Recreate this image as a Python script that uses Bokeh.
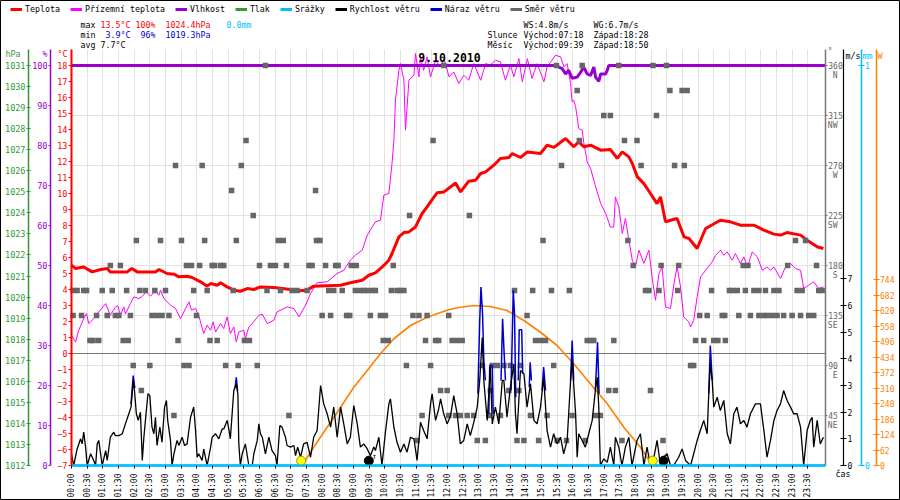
import math
from bokeh.plotting import figure
from bokeh.models import (Range1d, LinearAxis, FixedTicker, Label, Legend,
                          LegendItem, Grid)
from bokeh.embed import file_html
from bokeh.resources import INLINE

# ---------------- data (hours since midnight, 9.10.2010) ----------------
temp_t = [0.00, 0.13, 0.39, 0.66, 0.93, 1.14, 1.24, 1.78, 1.92, 2.10, 2.68, 2.79, 3.05, 3.27, 3.43,
          3.69, 3.85, 4.12, 4.33, 4.44, 4.65, 4.76, 4.97, 5.18, 5.39, 5.61, 5.82, 6.03, 6.46, 6.99,
          7.10, 7.52, 7.73, 8.59, 8.90, 9.28, 9.49, 9.70, 9.92, 10.13, 10.23, 10.45, 10.61, 10.77,
          10.98, 11.19, 11.35, 11.51, 11.67, 11.89, 12.26, 12.42, 12.68, 12.90, 13.06, 13.22, 13.48,
          13.69, 13.96, 14.07, 14.33, 14.55, 14.97, 15.18, 15.40, 15.77, 16.03, 16.19, 16.35, 16.57,
          16.89, 17.20, 17.42, 17.58, 17.79, 17.90, 18.06, 18.27, 18.48, 18.69, 18.80, 18.96, 19.12,
          19.33, 19.55, 19.71, 19.97, 20.24, 20.71, 21.03, 21.35, 21.78, 22.10, 22.42, 22.63, 22.84,
          23.27, 23.48, 23.80, 24.00]
temp_c = [5.52, 5.31, 5.41, 5.10, 5.25, 5.31, 5.10, 5.10, 5.31, 5.10, 5.10, 5.25, 5.00, 4.96, 4.79,
          4.83, 4.75, 4.48, 4.21, 4.37, 4.27, 4.42, 4.16, 3.96, 3.89, 4.06, 4.00, 4.16, 4.12, 4.00,
          3.91, 3.96, 4.21, 4.27, 4.42, 4.58, 4.89, 5.04, 5.41, 5.83, 6.25, 7.29, 7.56, 7.60,
          7.91, 8.75, 9.16, 9.62, 10.04, 10.10, 10.66, 10.10, 10.77, 10.83, 11.25, 11.35, 11.77,
          12.19, 12.25, 12.50, 12.25, 12.60, 12.50, 13.02, 12.88, 13.44, 12.92, 13.23, 12.92, 13.02,
          12.71, 12.75, 12.19, 12.60, 12.29, 11.87, 11.04, 10.62, 10.00, 9.37, 9.79, 8.23, 8.33,
          8.44, 7.29, 7.19, 6.56, 7.81, 8.33, 8.23, 8.02, 8.02, 7.71, 7.46, 7.40, 7.56,
          7.40, 7.08, 6.67, 6.56]

ground_temp = [
    (0.00, 1.14), (0.13, 0.72), (0.23, 1.45), (0.39, 2.18), (0.48, 2.50), (0.55, 1.87), (0.71, 2.18),
    (0.87, 2.60), (1.09, 3.12), (1.24, 2.39), (1.40, 2.91), (1.48, 2.98), (1.56, 2.39), (1.67, 2.91),
    (1.72, 2.46), (1.88, 3.12), (1.99, 3.54), (2.15, 3.43), (2.26, 3.58), (2.39, 3.85), (2.52, 3.58),
    (2.68, 3.91), (2.79, 3.64), (2.84, 3.96), (2.95, 3.43), (3.16, 3.02), (3.32, 2.81), (3.48, 2.18),
    (3.64, 2.81), (3.75, 3.23), (3.83, 2.71), (3.96, 2.81), (4.06, 2.39), (4.22, 1.25), (4.33, 1.77),
    (4.44, 1.45), (4.52, 1.98), (4.60, 1.35), (4.76, 1.87), (4.86, 1.56), (4.97, 2.29), (5.07, 1.25),
    (5.18, 1.66), (5.26, 0.72), (5.34, 1.35), (5.50, 1.45), (5.55, 0.93), (5.66, 1.66), (5.77, 1.87),
    (5.98, 2.39), (6.09, 2.46), (6.25, 1.87), (6.46, 2.08), (6.56, 2.60), (6.88, 2.91), (7.10, 2.81),
    (7.26, 2.29), (7.47, 3.02), (7.63, 3.75), (7.84, 4.42), (8.16, 4.48), (8.48, 5.00), (8.69, 5.20),
    (8.90, 5.83), (9.06, 6.14), (9.28, 6.46), (9.44, 7.40), (9.70, 8.23), (9.86, 8.33), (9.97, 9.90),
    (10.13, 10.00), (10.23, 11.87), (10.29, 13.33), (10.34, 15.83), (10.45, 17.70), (10.50, 18.12),
    (10.61, 17.08), (10.66, 13.96), (10.77, 17.08), (10.93, 17.40), (10.98, 18.75), (11.09, 17.29),
    (11.14, 18.54), (11.24, 17.70), (11.35, 18.54), (11.46, 17.29), (11.62, 18.33), (11.78, 17.91),
    (11.89, 18.43), (12.05, 17.29), (12.20, 17.60), (12.36, 16.87), (12.52, 17.40), (12.68, 17.08),
    (12.84, 18.12), (13.06, 17.08), (13.22, 18.12), (13.37, 18.02), (13.53, 18.33), (13.69, 18.23),
    (13.85, 17.08), (14.01, 18.02), (14.12, 17.29), (14.28, 18.43), (14.39, 16.98), (14.55, 18.43),
    (14.70, 17.19), (14.86, 18.12), (15.08, 16.98), (15.18, 17.91), (15.45, 18.64), (15.61, 18.54),
    (15.72, 17.91), (15.82, 18.12), (15.93, 16.87), (15.98, 15.73), (16.03, 15.83), (16.09, 15.42),
    (16.14, 14.79), (16.19, 14.06), (16.30, 13.96), (16.35, 13.20), (16.46, 11.98), (16.57, 11.56),
    (16.67, 10.83), (16.78, 10.10), (16.89, 9.37), (17.05, 8.75), (17.20, 7.90), (17.31, 7.90),
    (17.36, 9.79), (17.47, 9.16), (17.58, 7.50), (17.68, 8.44), (17.79, 7.08), (17.90, 5.83),
    (18.00, 5.41), (18.11, 6.46), (18.27, 5.63), (18.43, 6.46), (18.53, 4.79), (18.64, 3.33),
    (18.75, 5.00), (18.85, 5.41), (18.96, 2.91), (19.12, 2.81), (19.23, 4.37), (19.33, 5.41),
    (19.44, 4.16), (19.54, 2.29), (19.70, 1.98), (19.76, 1.66), (19.86, 2.08), (19.97, 3.54),
    (20.08, 4.79), (20.24, 5.20), (20.45, 5.73), (20.56, 6.14), (20.72, 6.46), (20.82, 6.14),
    (20.93, 6.35), (21.09, 5.83), (21.19, 6.25), (21.35, 5.63), (21.46, 6.04), (21.57, 5.41),
    (21.73, 6.35), (21.89, 6.04), (22.05, 5.20), (22.20, 5.41), (22.31, 5.20), (22.42, 5.41),
    (22.63, 4.69), (22.79, 5.41), (22.95, 5.63), (23.11, 5.31), (23.27, 5.20), (23.37, 4.06),
    (23.53, 4.27), (23.69, 4.48), (23.85, 4.06), (24.00, 4.16)]

humidity = [(0.00, 100), (15.45, 100), (15.66, 99.2), (15.77, 97.9), (15.87, 98.8), (15.98, 96.8),
            (16.14, 97.1), (16.25, 98.3), (16.35, 99.6), (16.46, 97.9), (16.57, 97.5), (16.67, 99.6),
            (16.73, 97.1), (16.83, 96.0), (16.89, 97.9), (17.05, 97.9), (17.10, 98.8), (17.15, 100),
            (24.06, 100)]

precip_t = [0.0, 24.06]
precip_mm = [0.0, 0.0]

wind_speed = [
    (0.00, 0.44), (0.07, 0.00), (0.18, 0.62), (0.29, 1.00), (0.34, 0.81), (0.39, 1.25), (0.45, 0.69),
    (0.50, 0.00), (0.61, 0.44), (0.71, 0.19), (0.77, 0.00), (0.82, 0.81), (0.87, 0.94), (0.98, 0.00),
    (1.09, 0.56), (1.14, 0.19), (1.24, 1.06), (1.35, 1.25), (1.40, 1.12), (1.51, 1.12), (1.62, 1.19),
    (1.72, 1.56), (1.83, 1.94), (1.90, 2.19), (1.97, 3.19), (2.01, 2.81), (2.07, 1.94), (2.13, 1.69),
    (2.20, 2.00), (2.26, 0.19), (2.31, 1.06), (2.36, 1.69), (2.44, 2.69), (2.50, 2.62), (2.57, 1.44),
    (2.63, 1.19), (2.68, 1.81), (2.73, 0.75), (2.82, 1.44), (2.89, 0.87), (2.97, 2.19), (3.03, 2.44),
    (3.07, 1.69), (3.16, 0.94), (3.21, 0.00), (3.27, 0.44), (3.37, 0.94), (3.43, 0.75), (3.53, 1.06),
    (3.61, 0.75), (3.69, 0.81), (3.80, 1.81), (3.90, 2.19), (3.96, 1.31), (4.01, 0.31), (4.06, 0.44),
    (4.17, 0.19), (4.22, 0.62), (4.33, 0.00), (4.44, 0.69), (4.49, 1.06), (4.60, 1.19), (4.70, 1.00),
    (4.81, 1.37), (4.86, 1.37), (4.97, 1.69), (5.02, 1.37), (5.07, 1.00), (5.18, 2.81), (5.26, 3.06),
    (5.31, 2.69), (5.34, 0.81), (5.39, 0.00), (5.45, 0.44), (5.55, 0.81), (5.66, 0.00), (5.77, 0.00),
    (5.82, 0.44), (5.93, 0.94), (5.98, 1.56), (6.03, 1.19), (6.09, 1.06), (6.19, 0.44), (6.30, 1.06),
    (6.40, 0.56), (6.51, 0.37), (6.56, 0.00), (6.65, 1.50), (6.72, 1.44), (6.83, 1.06), (6.88, 0.75),
    (6.99, 0.69), (7.10, 0.75), (7.15, 0.37), (7.22, 0.69), (7.31, 0.31), (7.41, 0.81), (7.52, 0.87),
    (7.63, 0.31), (7.73, 1.06), (7.84, 1.31), (7.95, 3.00), (8.05, 2.31), (8.16, 1.94), (8.27, 1.44),
    (8.37, 2.19), (8.48, 1.06), (8.59, 2.19), (8.69, 1.56), (8.80, 0.81), (8.90, 1.06), (9.01, 2.25),
    (9.12, 1.56), (9.22, 0.69), (9.33, 0.81), (9.44, 0.62), (9.54, 0.37), (9.65, 0.69), (9.70, 0.56),
    (9.81, 1.06), (9.91, 0.00), (10.02, 1.25), (10.13, 2.31), (10.18, 2.50), (10.29, 1.44),
    (10.39, 0.87), (10.50, 0.50), (10.61, 0.81), (10.71, 0.50), (10.82, 1.06), (10.93, 1.00),
    (11.03, 0.19), (11.14, 1.62), (11.24, 1.31), (11.35, 1.00), (11.46, 2.31), (11.51, 2.69),
    (11.62, 1.69), (11.72, 2.12), (11.78, 2.50), (11.88, 1.94), (11.99, 1.56), (12.10, 1.87),
    (12.20, 2.62), (12.31, 1.94), (12.41, 0.81), (12.52, 0.94), (12.63, 1.56), (12.73, 1.12),
    (12.84, 1.62), (12.95, 2.19), (13.03, 3.19), (13.11, 4.80), (13.16, 3.19), (13.27, 1.69),
    (13.37, 3.69), (13.43, 1.56), (13.53, 2.19), (13.64, 1.56), (13.75, 3.19), (13.80, 3.19),
    (13.90, 1.81), (14.01, 2.94), (14.12, 3.81), (14.17, 1.94), (14.22, 1.19), (14.33, 3.56),
    (14.44, 3.44), (14.54, 2.19), (14.65, 3.06), (14.76, 1.69), (14.86, 1.56), (14.97, 2.19),
    (15.07, 3.31), (15.18, 1.31), (15.29, 0.69), (15.39, 1.19), (15.50, 0.81), (15.61, 1.06),
    (15.71, 0.44), (15.82, 0.94), (15.93, 3.19), (15.98, 3.94), (16.09, 1.94), (16.14, 0.31),
    (16.19, 1.19), (16.30, 0.94), (16.40, 0.69), (16.51, 1.19), (16.62, 1.69), (16.72, 2.81),
    (16.78, 3.31), (16.83, 2.19), (16.88, 0.00), (16.99, 0.25), (17.10, 0.12), (17.20, 0.69),
    (17.31, 0.00), (17.36, 1.06), (17.47, 0.69), (17.57, 0.00), (17.68, 0.69), (17.79, 1.06),
    (17.89, 0.00), (18.05, 0.94), (18.16, 1.19), (18.27, 0.00), (18.37, 0.69), (18.48, 0.00),
    (18.59, 0.31), (18.69, 0.94), (18.80, 0.00), (18.90, 0.31), (19.01, 0.44), (19.12, 0.00),
    (19.22, 0.00), (19.38, 0.31), (19.49, 0.62), (19.60, 0.19), (19.76, 0.00), (19.86, 0.44),
    (19.97, 0.94), (20.07, 1.31), (20.18, 1.69), (20.29, 1.19), (20.34, 2.69), (20.39, 3.81),
    (20.45, 3.19), (20.50, 2.19), (20.61, 2.56), (20.71, 2.06), (20.82, 2.44), (20.93, 1.19),
    (21.03, 0.81), (21.14, 1.94), (21.24, 2.19), (21.35, 1.56), (21.46, 1.69), (21.56, 1.44),
    (21.67, 1.94), (21.83, 2.31), (21.99, 2.31), (22.10, 1.31), (22.20, 0.31), (22.31, 0.94),
    (22.42, 1.69), (22.52, 2.06), (22.63, 2.31), (22.73, 2.81), (22.84, 2.44), (22.95, 2.19),
    (23.05, 1.94), (23.16, 1.94), (23.27, 1.44), (23.37, 0.00), (23.48, 1.31), (23.58, 1.69),
    (23.64, 1.81), (23.69, 0.69), (23.80, 1.69), (23.90, 0.81), (24.00, 1.06)]

gust_peaks = [
    [(1.90, 2.30), (1.97, 3.37), (2.02, 2.90)],
    [(5.22, 2.90), (5.26, 3.31), (5.30, 2.80)],
    [(12.97, 2.69), (13.03, 5.44), (13.07, 6.69), (13.12, 5.69), (13.16, 3.94), (13.21, 3.19)],
    [(13.32, 1.94), (13.35, 3.75), (13.43, 3.75), (13.46, 1.94)],
    [(13.71, 3.19), (13.76, 5.50), (13.80, 4.44), (13.85, 3.19)],
    [(14.03, 2.81), (14.10, 6.56), (14.14, 5.69), (14.18, 2.56)],
    [(14.26, 3.19), (14.29, 5.09), (14.37, 5.09), (14.40, 3.44)],
    [(14.61, 2.94), (14.64, 3.87), (14.68, 3.19)],
    [(15.02, 2.81), (15.07, 3.69), (15.13, 2.81)],
    [(15.93, 3.19), (15.98, 4.69), (16.03, 3.19)],
    [(16.72, 2.81), (16.79, 4.62), (16.84, 2.69)],
    [(20.34, 2.69), (20.39, 4.50), (20.45, 3.19)]]

solar = [(7.36, 0), (7.73, 73), (8.16, 153), (8.59, 233), (9.01, 313), (9.44, 380), (9.86, 447),
         (10.29, 507), (10.82, 560), (11.35, 593), (11.78, 612), (12.04, 623), (12.31, 631),
         (12.84, 640), (13.37, 636), (13.90, 620), (14.44, 580), (14.97, 533), (15.50, 480),
         (16.03, 407), (16.56, 327), (17.10, 247), (17.63, 153), (18.16, 73), (18.48, 13), (18.59, 0)]

# wind direction samples: hours at which each compass direction was measured
wd_n = [6.19, 11.88, 15.48, 16.30, 17.47, 18.56, 18.99]
wd_nnw = [16.14, 19.10, 19.49, 19.65]
wd_nw = [16.99, 17.20, 18.67]
wd_wnw = [5.57, 11.54, 16.21, 17.65, 18.05]
wd_w = [3.32, 4.17, 5.42, 15.64, 18.18, 19.25, 19.56]
wd_wsw = [5.11, 7.79]
wd_sw = [5.80, 10.79, 12.70]
wd_ssw = [2.07, 2.84, 3.51, 4.25, 5.26, 6.60, 6.76, 7.82, 7.93, 15.05, 17.76, 23.11, 23.43]
wd_s = [1.24, 1.56, 3.67, 3.83, 4.09, 4.49, 4.57, 4.76, 4.86, 6.00, 6.35, 6.51, 6.86, 7.58, 7.68,
        8.11, 8.43, 8.51, 8.93, 9.09, 10.27, 17.93, 18.82, 19.38, 21.44, 21.59, 22.86, 23.78]
wd_sse = [0.05, 0.18, 0.39, 0.48, 0.98, 1.30, 1.76, 2.18, 2.36, 2.66, 3.00, 3.90, 4.33, 5.16, 6.24,
          6.67, 7.04, 7.20, 7.52, 8.21, 8.37, 8.64, 9.06, 9.22, 9.33, 9.44, 9.60, 9.70, 10.21, 10.39,
          10.50, 10.61, 14.14, 14.72, 15.32, 15.89, 18.32, 18.43, 18.75, 19.35, 20.43, 21.00, 21.11,
          21.25, 21.51, 21.78, 21.94, 22.15, 22.42, 22.58, 23.16, 23.32, 23.85, 23.96]
wd_se = [0.05, 0.32, 0.80, 1.14, 1.40, 1.51, 1.88, 2.57, 2.73, 2.89, 3.11, 3.99, 8.00, 8.27, 8.78,
         8.88, 9.54, 9.86, 10.02, 10.90, 11.09, 11.35, 12.04, 14.54, 20.05, 20.29, 20.77, 20.85,
         21.30, 21.67, 21.94, 22.10, 22.20, 22.36, 22.52, 22.73, 23.00, 23.27, 23.53, 23.69]
wd_ese = [0.59, 0.69, 0.87, 1.65, 1.81, 3.40, 4.42, 4.65, 5.52, 5.68, 9.95, 10.11, 11.30, 11.62,
          11.72, 12.15, 12.31, 12.47, 14.81, 14.97, 15.13, 16.46, 16.56, 16.67, 17.31, 19.92, 20.18,
          20.50, 20.63, 20.87]
wd_e = [1.97, 2.50, 3.59, 3.75, 4.92, 5.32, 5.93, 10.69, 11.46, 13.11, 13.43, 13.59, 13.80, 14.01,
        14.33, 15.39, 19.76, 19.86]
wd_ene = [2.23, 11.78, 11.99, 13.37, 13.96, 14.28, 17.15, 17.36, 18.48]
wd_ne = [3.27, 6.94, 11.19, 12.04, 12.26, 12.41, 12.63, 12.84, 13.32, 13.69, 14.65, 15.18, 15.98,
         16.72, 16.88]
wd_nne = [11.03, 12.95, 13.21, 14.22, 14.44, 14.91, 15.50, 15.80, 16.40, 17.57, 18.88]

sun_marks_t = [7.33, 18.55]      # sunrise / sunset markers
moon_marks_t = [9.49, 18.90]     # moonrise / moonset markers
marks_level = -6.7

half_hours = [i * 0.5 for i in range(48)]
time_labels = ["%02d:%02d" % (int(h), 30 if h % 1 else 0) for h in half_hours]
dir_ticks = [45, 90, 135, 180, 225, 270, 315, 360]
dir_names = ["NE", "E", "SE", "S", "SW", "W", "NW", "N"]
w_ticks = [0, 62, 124, 186, 248, 310, 372, 434, 496, 558, 620, 682, 744]

# ---------------- canvas geometry ----------------
# The frame fills the whole canvas; axes are pinned with fixed_location.
PXH = 31.33          # px per hour
PXC = 16.0           # px per degree C
X0, Y0 = 71, 465     # pixel of (00:00, -7 degC)
W, H = 900, 500
T_END = 24.06
x_lo, x_hi = -X0 / PXH, (W - X0) / PXH
c_lo, c_hi = -7 - (H - Y0) / PXC, -7 + Y0 / PXC


def lin(v_at_m7, per_degc):
    return Range1d(v_at_m7 + (c_lo + 7) * per_degc, v_at_m7 + (c_hi + 7) * per_degc)


def px_to_h(px):
    return (px - X0) / PXH


FONT = "DejaVu Sans Mono"
RED, MAG, PUR, GRN = "#ff0000", "#ff00ff", "#9900cc", "#339933"
CYAN, BLUE, GRAY, ORANGE = "#00bfff", "#0000cc", "#666666", "#ff8000"
GRIDC = "#e2e2e2"
NAN = float("nan")

p = figure(width=W, height=H, output_backend="svg", toolbar_location=None,
           x_range=Range1d(x_lo, x_hi), y_range=Range1d(c_lo, c_hi),
           min_border_left=0, min_border_right=0, min_border_top=0, min_border_bottom=0)
try:
    p.title = None
except Exception:
    p.title.visible = False
p.outline_line_color = "black"
p.outline_line_width = 1
p.background_fill_color = "white"
p.border_fill_color = "white"
p.extra_y_ranges = {
    "pct": lin(0, 4.0), "hpa": lin(1012, 0.76), "dir": lin(0, 14.4),
    "ms": lin(0, 0.6), "mm": lin(0, 0.04), "wm": lin(0, 64.0)}

HAS_CROSS = "cross_bounds" in Grid.properties()


def make_grid(dim, ticks, bounds, cross, color, rng=None):
    kw = dict(dimension=dim, ticker=FixedTicker(ticks=ticks), bounds=bounds, grid_line_color=color)
    if rng:
        kw["y_range_name"] = rng
    if HAS_CROSS:
        kw["cross_bounds"] = cross
    return Grid(**kw)


p.xgrid[0].visible = False
p.ygrid[0].visible = False
p.add_layout(make_grid(0, half_hours, (0, T_END), (-7, 19), GRIDC))
p.add_layout(make_grid(1, dir_ticks[:-1], (0, 374.4), (0, T_END), GRIDC, "dir"))
p.add_layout(make_grid(1, [0], (-7, 19), (0, T_END), "#777777"))

# x axis
xa = p.xaxis[0]
xa.fixed_location = -7
xa.bounds = (0, T_END)
xa.ticker = FixedTicker(ticks=half_hours)
xa.major_label_overrides = {t: s for t, s in zip(half_hours, time_labels)}
xa.major_label_orientation = math.pi / 2
xa.major_label_text_font = FONT
xa.major_label_text_font_size = "8px"
xa.major_label_text_color = "black"
xa.major_label_standoff = 5
xa.major_tick_in = 0
xa.major_tick_out = 3
xa.minor_tick_line_color = None
xa.axis_line_color = CYAN
xa.axis_line_width = 2


def style_axis(ax, color, size="8.5px", tin=0, tout=3, standoff=1, lw=1.5):
    ax.axis_line_color = color
    ax.axis_line_width = lw
    ax.major_tick_line_color = color
    ax.major_label_text_color = color
    ax.minor_tick_line_color = None
    ax.major_tick_in = tin
    ax.major_tick_out = tout
    ax.major_label_standoff = standoff
    ax.major_label_text_font = FONT
    ax.major_label_text_font_size = size


ya = p.yaxis[0]
ya.fixed_location = 0
ya.bounds = (-7, 19)
ya.ticker = FixedTicker(ticks=list(range(-7, 19)))
style_axis(ya, RED, tout=3, lw=2)

pa = LinearAxis(y_range_name="pct", fixed_location=px_to_h(50), bounds=(0, 104),
                ticker=FixedTicker(ticks=list(range(0, 101, 10))))
style_axis(pa, PUR, tout=2)
p.add_layout(pa, "left")

ha = LinearAxis(y_range_name="hpa", fixed_location=px_to_h(28), bounds=(1012, 1031.76),
                ticker=FixedTicker(ticks=list(range(1012, 1032))))
style_axis(ha, GRN, tin=2, tout=2)
p.add_layout(ha, "left")

da = LinearAxis(y_range_name="dir", fixed_location=T_END, bounds=(0, 374.4),
                ticker=FixedTicker(ticks=dir_ticks))
style_axis(da, "#777777", size="8px", tout=2, standoff=1)
da.major_label_text_color = GRAY
p.add_layout(da, "right")

ma = LinearAxis(y_range_name="ms", fixed_location=px_to_h(843), bounds=(0, 15.6),
                ticker=FixedTicker(ticks=list(range(0, 8))))
style_axis(ma, "black", size="8px", tin=3, tout=3, lw=1.2)
p.add_layout(ma, "right")

mma = LinearAxis(y_range_name="mm", fixed_location=px_to_h(860.5), bounds=(0, 1.04),
                 ticker=FixedTicker(ticks=[0, 1]))
style_axis(mma, CYAN, size="8px", tin=3, tout=3)
p.add_layout(mma, "right")

wa = LinearAxis(y_range_name="wm", fixed_location=px_to_h(875.5), bounds=(0, 1664),
                ticker=FixedTicker(ticks=w_ticks))
style_axis(wa, ORANGE, size="8px", tin=3, tout=3)
p.add_layout(wa, "right")

# ---------------- series ----------------
p.line([t for t, v in solar], [v for t, v in solar], y_range_name="wm", line_color=ORANGE,
       line_width=1.6)
p.line([t for t, v in ground_temp], [v for t, v in ground_temp], line_color=MAG, line_width=1)
p.line(temp_t, temp_c, line_color=RED, line_width=3)
p.line([t for t, v in humidity], [v for t, v in humidity], y_range_name="pct", line_color=PUR,
       line_width=3)

dir_groups = [(wd_n, 360), (wd_nnw, 337.5), (wd_nw, 315), (wd_wnw, 292.5), (wd_w, 270),
              (wd_wsw, 247.5), (wd_sw, 225), (wd_ssw, 202.5), (wd_s, 180), (wd_sse, 157.5),
              (wd_se, 135), (wd_ese, 112.5), (wd_e, 90), (wd_ene, 67.5), (wd_ne, 45),
              (wd_nne, 22.5)]
dir_x, dir_y = [], []
for hours, deg in dir_groups:
    dir_x += hours
    dir_y += [deg] * len(hours)
p.scatter(dir_x, dir_y, y_range_name="dir", marker="square", size=5.5, fill_color=GRAY,
          line_color=None)

p.multi_line([[t for t, v in seg] for seg in gust_peaks], [[v for t, v in seg] for seg in gust_peaks],
             y_range_name="ms", line_color=BLUE, line_width=1.5)
p.line([t for t, v in wind_speed], [v for t, v in wind_speed], y_range_name="ms",
       line_color="black", line_width=1.3)
p.line(precip_t, precip_mm, y_range_name="mm", line_color=CYAN, line_width=2.5)

p.scatter(sun_marks_t, [marks_level] * len(sun_marks_t), size=9, fill_color="#ffff00",
          line_color="#999900")
p.scatter(moon_marks_t, [marks_level] * len(moon_marks_t), size=9, fill_color="black",
          line_color="black")

# ---------------- legend ----------------
names = ["Teplota", "Přízemní teplota", "Vlhkost", "Tlak", "Srážky", "Rychlost větru",
         "Náraz větru", "Směr větru"]
colors = [RED, MAG, PUR, GRN, CYAN, "black", BLUE, GRAY]
items = []
for n, c in zip(names, colors):
    r = p.line([NAN, NAN], [NAN, NAN], line_color=c, line_width=3)
    items.append(LegendItem(label=n, renderers=[r]))
legend = Legend(items=items, orientation="horizontal", location=(10, H - 14), glyph_width=12,
                glyph_height=10, label_height=10, label_standoff=3, spacing=10, padding=0,
                margin=0, label_text_font=FONT, label_text_font_size="8.3px",
                label_text_color="black", background_fill_alpha=0, border_line_alpha=0)
p.add_layout(legend)

# ---------------- texts ----------------


def txt(s, sx, sy, color="black", size="8.3px", align="left", bold=False):
    p.add_layout(Label(x=sx, y=H - sy, x_units="screen", y_units="screen", text=s,
                       text_color=color, text_font=FONT, text_font_size=size, text_align=align,
                       text_baseline="middle", text_font_style="bold" if bold else "normal"))


r1, r2, r3 = 24, 34, 44
txt("max", 80, r1); txt("13.5°C", 100, r1, RED); txt("100%", 135, r1, RED)
txt("1024.4hPa", 165, r1, RED); txt("0.0mm", 226, r1, CYAN)
txt("min", 80, r2); txt("3.9°C", 105, r2, BLUE); txt("96%", 140, r2, BLUE)
txt("1019.3hPa", 165, r2, BLUE)
txt("avg", 80, r3); txt("7.7°C", 100, r3)
txt("WS:4.8m/s", 523, r1); txt("WG:6.7m/s", 593, r1)
txt("Slunce", 487, r2); txt("Východ:07:18", 523, r2); txt("Západ:18:28", 593, r2)
txt("Měsíc", 487, r3); txt("Východ:09:39", 523, r3); txt("Západ:18:50", 593, r3)
txt("9.10.2010", 449, 57, size="11.5px", align="center", bold=True)

txt("hPa", 5, 53, GRN); txt("%", 42, 53, PUR); txt("°C", 57, 53, RED)
txt("°", 827, 50, GRAY); txt("m/s", 845, 55); txt("mm", 862, 55, CYAN); txt("W", 877, 55, ORANGE)
txt("čas", 835, 473)
txt("↑", 374, 456, size="8px", align="center")

for d, name in zip(dir_ticks, dir_names):
    p.add_layout(Label(x=837, x_units="screen", y=-7 + d / 14.4, y_offset=-10, text=name,
                       text_color=GRAY, text_font=FONT, text_font_size="8px", text_align="right",
                       text_baseline="middle"))

open("out.html", "w").write(file_html(p, INLINE))
